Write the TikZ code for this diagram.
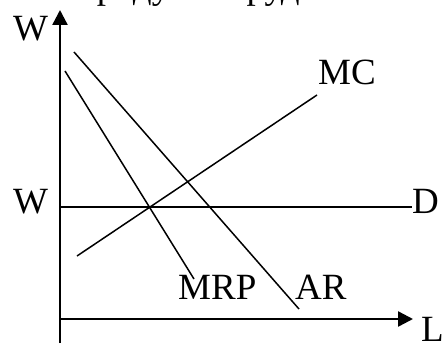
\documentclass[tikz,border=0pt]{standalone}
\usepackage{fontspec}
\setmainfont{Liberation Serif}
\usetikzlibrary{arrows.meta}

\begin{document}
\begin{tikzpicture}[
  x=1pt, y=1pt,
  font=\fontsize{37}{40}\selectfont,
  axis/.style={line width=2.4pt,-{Triangle[length=15pt,width=15pt]}},
  curve/.style={line width=1.5pt},
  lbl/.style={inner sep=0pt,anchor=base west},
]
\useasboundingbox (0,0) rectangle (443,343);
% title, cut off by the page
\node[lbl] (title) at (77,344) {продукта труда};

% axes
\coordinate (ybot) at (60,0);
\coordinate (ytop) at (60,333);
\coordinate (xleft) at (60,24);
\coordinate (xright) at (413,24);
\draw[axis] (ybot) -- (ytop);
\draw[axis] (xleft) -- (xright);

% wage line
\coordinate (dl) at (60,136);
\node[lbl] (D) at (412,130) {D};
\draw[curve] (dl) -- (D.west |- dl);

% curves
\coordinate (mrpA) at (65,272);  \coordinate (mrpB) at (194,64);
\coordinate (arA) at (74,291);   \coordinate (arB) at (299,34);
\coordinate (mcA) at (77,87);    \coordinate (mcB) at (317,248);
\draw[curve] (mrpA) -- (mrpB);
\draw[curve] (arA) -- (arB);
\draw[curve] (mcA) -- (mcB);

% labels
\node[lbl] (Wtop) at (13,302) {W};
\node[lbl] (Wmid) at (13,130) {W};
\node[lbl] (MC) at (318,258) {MC};
\node[lbl] (MRP) at (178,44) {MRP};
\node[lbl] (AR) at (295,44) {AR};
\node[lbl] (L) at (421,2) {L};
\end{tikzpicture}
\end{document}
